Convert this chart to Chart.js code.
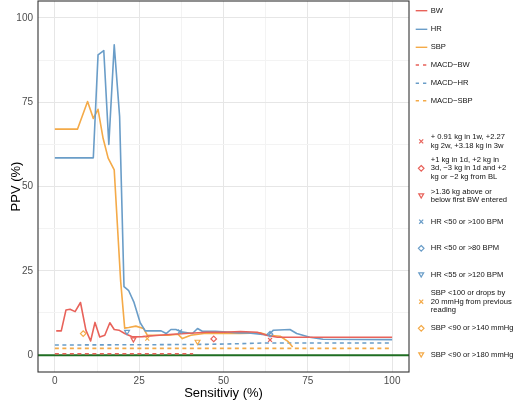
<!DOCTYPE html>
<html>
<head>
<meta charset="utf-8">
<title>PPV vs Sensitivity</title>
<script src="https://cdn.jsdelivr.net/npm/chart.js@4.4.1/dist/chart.umd.min.js"></script>
<style>
    html, body { margin: 0; padding: 0; background: #ffffff; }
    #ppvChart { display: block; }
</style>
</head>
<body>
<canvas id="ppvChart" width="520" height="404"></canvas>
<script>
// Values (sensitivity %, PPV %)
const bwSens = [0.4, 1.9, 3.3, 4.5, 6.0, 7.6, 9.2, 10.6, 11.9, 13.3, 14.8, 16.3, 17.6, 19.0, 20.7, 23.1, 26, 30, 35, 40, 45, 50, 55, 60, 63, 66, 100];
const bwPPV = [7.2, 7.2, 13.4, 13.6, 12.9, 15.6, 7.4, 4.2, 9.7, 5.4, 5.9, 9.6, 7.6, 7.4, 6.4, 5.4, 5.5, 5.8, 6.2, 6.5, 6.8, 6.8, 7.0, 6.8, 5.8, 5.3, 5.3];

const hrSens = [0, 11.4, 12.8, 14.5, 16.0, 17.6, 19.2, 20.5, 21.9, 23.4, 25.3, 26.8, 31.5, 33.0, 34.4, 35.9, 37.4, 40.8, 42.3, 43.7, 47.6, 54.5, 57.4, 60.9, 63.3, 64.8, 69.7, 71.7, 75.6, 79.5, 100];
const hrPPV = [58.5, 58.5, 89.0, 90.3, 62.5, 92.0, 70.7, 20.3, 19.1, 15.8, 9.6, 7.2, 7.2, 6.4, 7.6, 7.6, 6.9, 6.4, 7.9, 7.1, 7.1, 6.6, 6.6, 6.2, 5.9, 7.4, 7.6, 6.4, 5.3, 4.7, 4.6];

const sbpSens = [0, 6.7, 9.7, 11.4, 12.8, 14.3, 15.8, 17.6, 19.5, 20.7, 21.9, 24.0, 26.3, 27.4, 33.8, 36.5, 37.8, 40.3, 44.2, 50, 55, 60.9, 63.3, 66.8, 69.2, 70.5];
const sbpPPV = [67, 67, 75.2, 70.2, 72.9, 64.3, 58.4, 54.9, 22, 8.0, 8.2, 8.6, 7.9, 5.9, 5.9, 6.2, 4.9, 5.9, 6.4, 6.5, 6.4, 6.6, 5.9, 5.6, 4.0, 2.4];

const macdBwSens = [0, 41];
const macdBwPPV = [0.4, 0.4];
const macdHrSens = [0, 30, 45, 55, 62, 100];
const macdHrPPV = [3.0, 3.1, 3.2, 3.4, 3.6, 3.6];
const macdSbpSens = [0, 100];
const macdSbpPPV = [2.0, 2.0];

// single-threshold rules: x marker, diamond, triangle (per signal)
const bwRuleSens = [63.8, 47.1, 23.3];
const bwRulePPV = [4.5, 4.8, 4.7];
const hrRuleSens = [37.1, 63.8, 21.4];
const hrRulePPV = [7.0, 6.2, 6.9];
const sbpRuleSens = [27.4, 8.4, 42.3];
const sbpRulePPV = [4.9, 6.4, 4.0];

const lineLabels = ['BW', 'HR', 'SBP', 'MACD\u2212BW', 'MACD\u2212HR', 'MACD\u2212SBP'];
const bwRuleLabels = [
    ['+ 0.91 kg in 1w, +2.27', 'kg 2w, +3.18 kg in 3w'],
    ['+1 kg in 1d, +2 kg in', '3d, \u22123 kg in 1d and +2', 'kg or \u22122 kg from BL'],
    ['>1.36 kg above or', 'below first BW entered']
];
const hrRuleLabels = [['HR <50 or >100 BPM'], ['HR <50 or >80 BPM'], ['HR <55 or >120 BPM']];
const sbpRuleLabels = [
    ['SBP <100 or drops by', '20 mmHg from previous', 'reading'],
    ['SBP <90 or >140 mmHg'],
    ['SBP <90 or >180 mmHg']
];

const xTicks = [0, 12.5, 25, 37.5, 50, 62.5, 75, 87.5, 100];
const yTicks = [0, 12.5, 25, 37.5, 50, 62.5, 75, 87.5, 100];

// colours
const RED = '#e8625a';
const BLUE = '#6a9dc8';
const ORANGE = '#f4aa48';
const GREEN = '#1f6e22';
const FONT = '"Liberation Sans", Arial, Helvetica, sans-serif';

const SHAPES = [
    { style: 'crossRot', rotation: 0 },
    { style: 'rectRot', rotation: 0 },
    { style: 'triangle', rotation: 180 }
];

function toPoints(xs, ys) {
    return xs.map((x, i) => ({ x: x, y: ys[i] }));
}

function lineSet(label, xs, ys, color, dashed) {
    return {
        label: label,
        data: toPoints(xs, ys),
        borderColor: color,
        borderWidth: 1.6,
        borderDash: dashed ? [4, 3.5] : [],
        borderJoinStyle: 'round',
        pointRadius: 0,
        tension: 0,
        fill: false,
        order: 2
    };
}

function ruleSets(xs, ys, labels, color) {
    return xs.map((x, i) => ({
        label: labels[i].join(' '),
        data: [{ x: x, y: ys[i] }],
        showLine: false,
        pointStyle: SHAPES[i].style,
        rotation: SHAPES[i].rotation,
        pointRadius: 2.8,
        pointBorderWidth: 1.2,
        pointBorderColor: color,
        pointBackgroundColor: 'rgba(0,0,0,0)',
        order: 1
    }));
}

const datasets = [
    lineSet(lineLabels[0], bwSens, bwPPV, RED, false),
    lineSet(lineLabels[1], hrSens, hrPPV, BLUE, false),
    lineSet(lineLabels[2], sbpSens, sbpPPV, ORANGE, false),
    lineSet(lineLabels[3], macdBwSens, macdBwPPV, RED, true),
    lineSet(lineLabels[4], macdHrSens, macdHrPPV, BLUE, true),
    lineSet(lineLabels[5], macdSbpSens, macdSbpPPV, ORANGE, true),
    ...ruleSets(bwRuleSens, bwRulePPV, bwRuleLabels, RED),
    ...ruleSets(hrRuleSens, hrRulePPV, hrRuleLabels, BLUE),
    ...ruleSets(sbpRuleSens, sbpRulePPV, sbpRuleLabels, ORANGE),
    {
        // zero reference line across the whole panel
        label: 'zero',
        data: [{ x: -5, y: 0 }, { x: 105, y: 0 }],
        borderColor: GREEN,
        borderWidth: 2,
        pointRadius: 0,
        order: 3
    }
];

function drawMarker(ctx, shape, x, y, r, color) {
    ctx.save();
    ctx.strokeStyle = color;
    ctx.lineWidth = 1.2;
    ctx.beginPath();
    if (shape === 'crossRot') {
        const d = r * 0.72;
        ctx.moveTo(x - d, y - d); ctx.lineTo(x + d, y + d);
        ctx.moveTo(x + d, y - d); ctx.lineTo(x - d, y + d);
    } else if (shape === 'rectRot') {
        ctx.moveTo(x, y - r); ctx.lineTo(x + r, y); ctx.lineTo(x, y + r); ctx.lineTo(x - r, y); ctx.closePath();
    } else {
        const h = r * 1.5;
        ctx.moveTo(x - r * 0.87, y - h / 2); ctx.lineTo(x + r * 0.87, y - h / 2); ctx.lineTo(x, y + h / 2); ctx.closePath();
    }
    ctx.stroke();
    ctx.restore();
}

// panel border + custom ggplot-like legend
const panelAndLegend = {
    id: 'panelAndLegend',
    afterDraw(chart) {
        const ctx = chart.ctx;
        const a = chart.chartArea;
        ctx.save();
        ctx.strokeStyle = '#333333';
        ctx.lineWidth = 1.1;
        ctx.strokeRect(a.left, a.top, a.right - a.left, a.bottom - a.top);

        const keyL = 415.7, keyR = 427.3, keyMid = 421.2, textX = 430.7;
        ctx.font = '7.6px ' + FONT;
        ctx.fillStyle = '#111111';
        ctx.textBaseline = 'middle';
        ctx.textAlign = 'left';

        const lineRows = [10.7, 29.3, 47.3, 65, 83.3, 100.7];
        const lineColors = [RED, BLUE, ORANGE, RED, BLUE, ORANGE];
        lineRows.forEach((y, i) => {
            ctx.save();
            ctx.strokeStyle = lineColors[i];
            ctx.lineWidth = 1.4;
            ctx.setLineDash(i >= 3 ? [3.3, 4] : []);
            ctx.beginPath();
            ctx.moveTo(keyL, y); ctx.lineTo(keyR, y);
            ctx.stroke();
            ctx.restore();
            ctx.fillText(lineLabels[i], textX, y);
        });

        const ruleRows = [141.4, 168.3, 196, 221.7, 248.3, 275, 301.7, 328.3, 355];
        const ruleLabels = [...bwRuleLabels, ...hrRuleLabels, ...sbpRuleLabels];
        const ruleColors = [RED, RED, RED, BLUE, BLUE, BLUE, ORANGE, ORANGE, ORANGE];
        const lh = 8.5;
        ruleRows.forEach((y, i) => {
            drawMarker(ctx, SHAPES[i % 3].style, keyMid, y, 2.8, ruleColors[i]);
            const lines = ruleLabels[i];
            const top = y - (lines.length - 1) * lh / 2;
            lines.forEach((t, j) => ctx.fillText(t, textX, top + j * lh));
        });
        ctx.restore();
    }
};

function gridColor(ctx) {
    const v = ctx.tick ? ctx.tick.value : 0;
    return v % 25 === 0 ? '#e6e6e6' : '#f3f3f3';
}

new Chart(document.getElementById('ppvChart'), {
    type: 'line',
    data: { datasets: datasets },
    plugins: [panelAndLegend],
    options: {
        responsive: false,
        animation: false,
        devicePixelRatio: 1,
        layout: { autoPadding: false, padding: { left: 0, right: 111, top: 1, bottom: 0 } },
        plugins: { legend: { display: false }, tooltip: { enabled: false } },
        scales: {
            x: {
                type: 'linear',
                min: -5,
                max: 105,
                afterBuildTicks: (s) => { s.ticks = xTicks.map(v => ({ value: v })); },
                afterFit: (s) => { s.height = 32; s.paddingLeft = 0; s.paddingRight = 0; },
                border: { display: false },
                grid: { color: gridColor, lineWidth: 1, drawTicks: false },
                ticks: {
                    padding: 3,
                    color: '#4d4d4d',
                    font: { family: FONT, size: 10 },
                    maxRotation: 0,
                    autoSkip: false,
                    callback: (v) => (v % 25 === 0 ? v : '')
                },
                title: {
                    display: true,
                    text: 'Sensitiviy (%)',
                    color: '#000000',
                    font: { family: FONT, size: 13 },
                    padding: { top: 0, bottom: 3 }
                }
            },
            y: {
                type: 'linear',
                min: -5,
                max: 105,
                afterBuildTicks: (s) => { s.ticks = yTicks.map(v => ({ value: v })); },
                afterFit: (s) => { s.width = 38; s.paddingTop = 0; s.paddingBottom = 0; },
                border: { display: false },
                grid: { color: gridColor, lineWidth: 1, drawTicks: false },
                ticks: {
                    padding: 5,
                    color: '#4d4d4d',
                    font: { family: FONT, size: 10 },
                    autoSkip: false,
                    callback: (v) => (v % 25 === 0 ? v : '')
                },
                title: {
                    display: true,
                    text: 'PPV (%)',
                    color: '#000000',
                    font: { family: FONT, size: 13 },
                    padding: { top: 9, bottom: 0 }
                }
            }
        }
    }
});
</script>
</body>
</html>
